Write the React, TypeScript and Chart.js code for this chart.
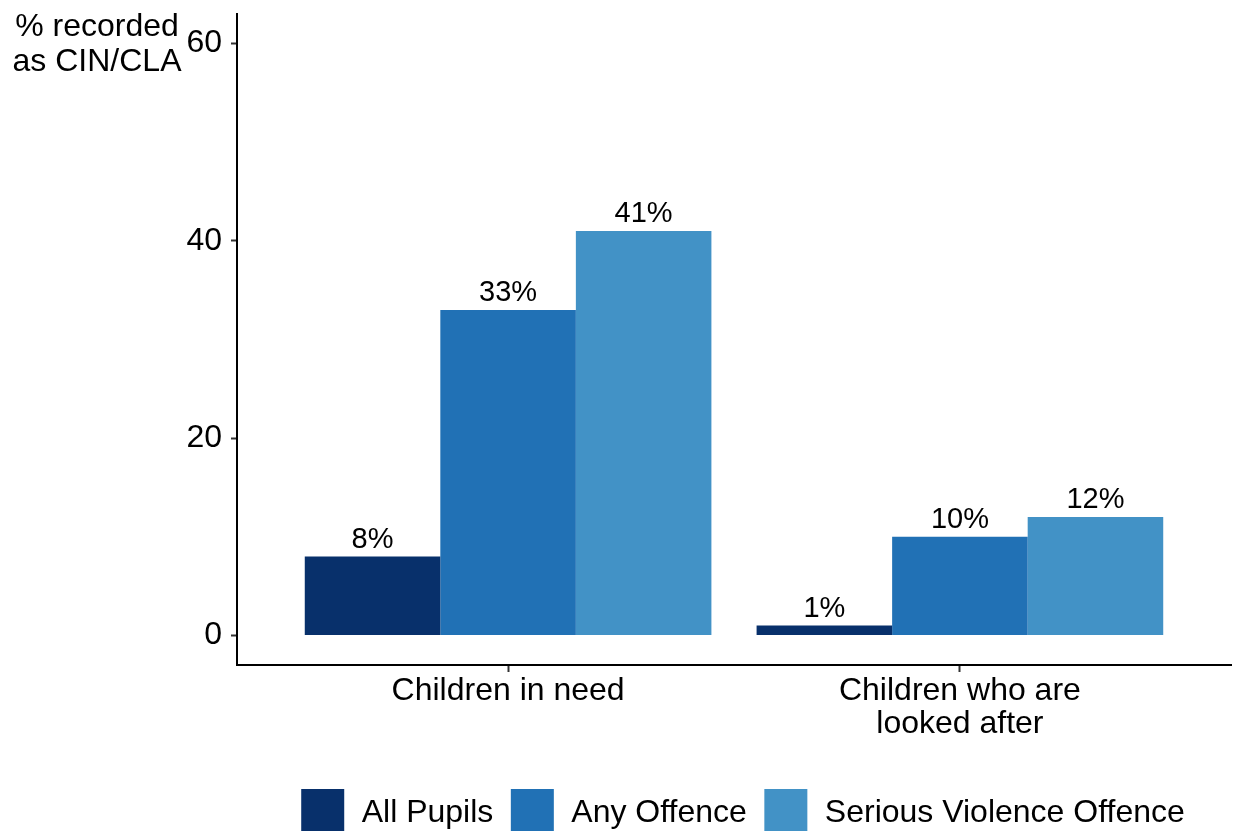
import React, { useEffect, useRef } from 'react';
import { Chart, registerables } from 'chart.js';

Chart.register(...registerables);

const categories: string[][] = [['Children in need'], ['Children who are', 'looked after']];
const seriesNames = ['All Pupils', 'Any Offence', 'Serious Violence Offence'];
const allPupils = [8, 1];
const anyOffence = [33, 10];
const seriousViolence = [41, 12];
const yTicks = [0, 20, 40, 60];
const colors = ['#08306B', '#2171B5', '#4292C6'];
const yTitle = ['% recorded', 'as CIN/CLA'];

const FONT = '"Liberation Sans", Arial, Helvetica, sans-serif';

const valueLabels = {
  id: 'valueLabels',
  afterDatasetsDraw(chart: any) {
    const ctx = chart.ctx;
    ctx.save();
    ctx.font = `29px ${FONT}`;
    ctx.fillStyle = '#000';
    ctx.textAlign = 'center';
    ctx.textBaseline = 'alphabetic';
    chart.data.datasets.forEach((ds: any, di: number) => {
      const meta = chart.getDatasetMeta(di);
      meta.data.forEach((el: any, i: number) => {
        const v = ds.data[i].y;
        ctx.fillText(v + '%', el.x, el.y - 9);
      });
    });
    ctx.restore();
  },
};

const yTitlePlugin = {
  id: 'yTitlePlugin',
  afterDraw(chart: any) {
    const ctx = chart.ctx;
    const { left, top } = chart.chartArea;
    ctx.save();
    ctx.font = `32px ${FONT}`;
    ctx.fillStyle = '#000';
    ctx.textAlign = 'center';
    ctx.textBaseline = 'alphabetic';
    ctx.fillText(yTitle[0], left - 140, top + 22);
    ctx.fillText(yTitle[1], left - 140, top + 57);
    ctx.restore();
  },
};

const customLegend = {
  id: 'customLegend',
  afterDraw(chart: any) {
    const ctx = chart.ctx;
    const { left, right } = chart.chartArea;
    ctx.save();
    ctx.font = `32px ${FONT}`;
    const boxW = 43;
    const boxH = 42;
    const textGap = 17.5;
    const itemGap = 17.5;
    const widths = seriesNames.map((n) => ctx.measureText(n).width);
    let total = 0;
    widths.forEach((w, i) => {
      total += boxW + textGap + w + (i < widths.length - 1 ? itemGap : 0);
    });
    const center = (left + right) / 2 + 9;
    let x = center - total / 2;
    const boxTop = chart.height - boxH;
    seriesNames.forEach((n, i) => {
      ctx.fillStyle = colors[i];
      ctx.fillRect(x, boxTop, boxW, boxH);
      ctx.fillStyle = '#000';
      ctx.textAlign = 'left';
      ctx.textBaseline = 'alphabetic';
      ctx.fillText(n, x + boxW + textGap, boxTop + 33);
      x += boxW + textGap + widths[i] + itemGap;
    });
    ctx.restore();
  },
};

export default function App() {
  const canvasRef = useRef<HTMLCanvasElement | null>(null);

  useEffect(() => {
    document.body.style.margin = '0';
    const canvas = canvasRef.current;
    if (!canvas) return;
    const seriesValues = [allPupils, anyOffence, seriousViolence];
    const chart = new Chart(canvas, {
      type: 'bar',
      data: {
        datasets: seriesNames.map((name, si) => ({
          label: name,
          data: seriesValues[si].map((v, i) => ({ x: i + 1, y: v })),
          backgroundColor: colors[si],
          borderWidth: 0,
          categoryPercentage: 0.9,
          barPercentage: 1,
        })),
      },
      options: {
        animation: false,
        responsive: false,
        maintainAspectRatio: false,
        devicePixelRatio: 1,
        layout: { padding: { left: 0, top: 14, right: 4, bottom: 0 } },
        plugins: {
          legend: { display: false },
          tooltip: { enabled: false },
        },
        scales: {
          x: {
            type: 'linear',
            min: 0.4,
            max: 2.6,
            offset: false,
            afterBuildTicks: (scale: any) => {
              scale.ticks = categories.map((_, i) => ({ value: i + 1 }));
            },
            afterFit: (scale: any) => {
              scale.height = 166;
              scale.paddingLeft = 0;
              scale.paddingRight = 0;
            },
            border: { display: true, color: '#000', width: 2 },
            grid: {
              display: true,
              offset: false,
              drawOnChartArea: false,
              drawTicks: true,
              tickLength: 7,
              tickColor: '#333',
              tickWidth: 2,
            },
            ticks: {
              autoSkip: false,
              maxRotation: 0,
              minRotation: 0,
              padding: 3,
              color: '#000',
              font: { family: FONT, size: 32, lineHeight: 1.02 },
              callback: (_v: any, index: number) => categories[index],
            },
          },
          y: {
            type: 'linear',
            min: -3,
            max: 63,
            afterBuildTicks: (scale: any) => {
              scale.ticks = yTicks.map((v) => ({ value: v }));
            },
            afterFit: (scale: any) => {
              scale.width = 237;
              scale.paddingTop = 0;
              scale.paddingBottom = 0;
            },
            border: { display: true, color: '#000', width: 2 },
            grid: {
              display: true,
              offset: false,
              drawOnChartArea: false,
              drawTicks: true,
              tickLength: 6,
              tickColor: '#333',
              tickWidth: 2,
            },
            ticks: {
              padding: 9,
              color: '#000',
              font: { family: FONT, size: 32 },
              callback: (v: any) => String(v),
            },
          },
        },
      },
      plugins: [valueLabels, yTitlePlugin, customLegend],
    } as any);
    return () => chart.destroy();
  }, []);

  return (
    <div style={{ position: 'absolute', left: 0, top: 0, width: 1235, height: 831 }}>
      <canvas ref={canvasRef} width={1235} height={831} style={{ display: 'block' }} />
    </div>
  );
}
